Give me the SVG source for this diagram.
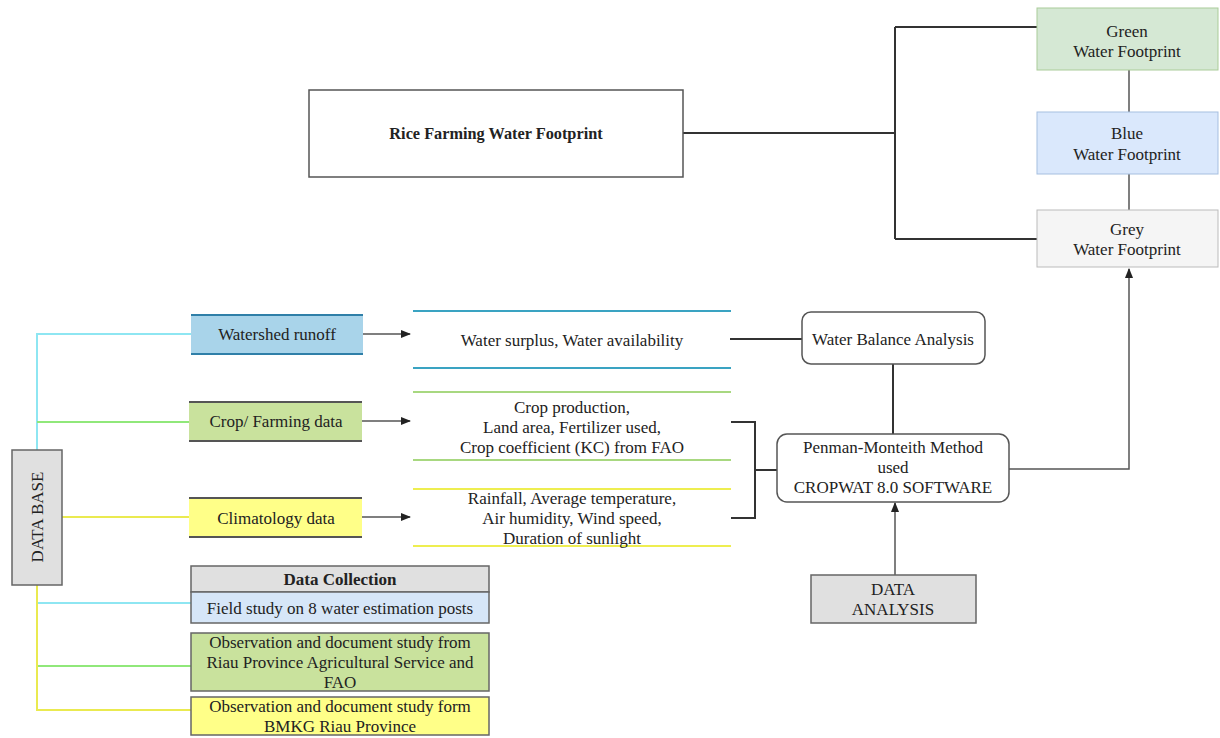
<svg xmlns="http://www.w3.org/2000/svg" width="1220" height="738" viewBox="0 0 1220 738">
<defs>
<marker id="ah" viewBox="0 0 10 10" refX="9" refY="5" markerWidth="7" markerHeight="7" orient="auto"><path d="M0,1 L10,5 L0,9 Z" fill="#222"/></marker>
<style>
text{font-family:"Liberation Serif","Times New Roman",serif;font-size:17px;fill:#222;text-anchor:middle}
.b{font-weight:bold}
.blk{stroke:#333;stroke-width:2;fill:none}
.thin{stroke:#555;stroke-width:1.5;fill:none}
</style>
</defs>
<rect width="1220" height="738" fill="#fff"/>
<g id="connectors">
<path class="blk" d="M683,133 H895 M895,27 V239 M895,27 H1037 M895,239 H1037"/>
<path class="thin" d="M1129,70 V112 M1129,174 V210"/>
<path class="thin" d="M1009,469 H1129 V269" marker-end="url(#ah)"/>
<path class="blk" d="M730,339 H802 M893,364 V434 M731,422 H755 V518 H731 M755,470 H777"/>
<path class="thin" d="M895,575 V503" marker-end="url(#ah)"/>
<path class="thin" d="M363,334 H410" marker-end="url(#ah)"/>
<path class="thin" d="M362,421 H410" marker-end="url(#ah)"/>
<path class="thin" d="M362,517 H410" marker-end="url(#ah)"/>
<path stroke="#8ee6f2" stroke-width="2" fill="none" d="M37,450 V334 H191 M37,603 H191"/>
<path stroke="#90e87a" stroke-width="2" fill="none" d="M37,422 H189 M37,666 H191"/>
<path stroke="#eaea50" stroke-width="2" fill="none" d="M62,517 H189 M37,585 V710 H191"/>
</g>
<g id="rice">
<rect x="309" y="90" width="374" height="87" fill="#fff" stroke="#555" stroke-width="1.5"/>
<text x="496" y="139" class="b" style="font-size:16.3px">Rice Farming Water Footprint</text>
</g>
<g id="green">
<rect x="1037" y="8" width="181" height="62" fill="#d5e8d4" stroke="#aacc99" stroke-width="1"/>
<text x="1127" y="37">Green</text><text x="1127" y="57">Water Footprint</text>
</g>
<g id="blue">
<rect x="1037" y="112" width="181" height="62" fill="#dae8fc" stroke="#a6bfe0" stroke-width="1"/>
<text x="1127" y="139">Blue</text><text x="1127" y="160">Water Footprint</text>
</g>
<g id="grey">
<rect x="1037" y="210" width="181" height="57" fill="#f5f5f5" stroke="#bbb" stroke-width="1"/>
<text x="1127" y="235">Grey</text><text x="1127" y="255">Water Footprint</text>
</g>
<g id="wba">
<rect x="802" y="312" width="183" height="52" rx="9" fill="#fff" stroke="#555" stroke-width="1.5"/>
<text x="893" y="345">Water Balance Analysis</text>
</g>
<g id="penman">
<rect x="777" y="434" width="232" height="68" rx="10" fill="#fff" stroke="#555" stroke-width="1.5"/>
<text x="893" y="453">Penman-Monteith Method</text>
<text x="893" y="473">used</text>
<text x="893" y="493">CROPWAT 8.0 SOFTWARE</text>
</g>
<g id="analysis">
<rect x="811" y="575" width="165" height="48" fill="#e0e0e0" stroke="#666" stroke-width="1.5"/>
<text x="893" y="595">DATA</text><text x="893" y="615">ANALYSIS</text>
</g>
<g id="surplus">
<line x1="413" y1="311" x2="731" y2="311" stroke="#3aa3c2" stroke-width="2"/>
<line x1="413" y1="368" x2="731" y2="368" stroke="#3aa3c2" stroke-width="2"/>
<text x="572" y="346">Water surplus, Water availability</text>
</g>
<g id="cropout">
<line x1="413" y1="392" x2="731" y2="392" stroke="#a8d880" stroke-width="2"/>
<line x1="413" y1="460" x2="731" y2="460" stroke="#a8d880" stroke-width="2"/>
<text x="572" y="413">Crop production,</text>
<text x="572" y="433">Land area, Fertilizer used,</text>
<text x="572" y="453">Crop coefficient (KC) from FAO</text>
</g>
<g id="climout">
<line x1="413" y1="489" x2="731" y2="489" stroke="#eeee50" stroke-width="2"/>
<line x1="413" y1="546" x2="731" y2="546" stroke="#eeee50" stroke-width="2"/>
<text x="572" y="504">Rainfall, Average temperature,</text>
<text x="572" y="524">Air humidity, Wind speed,</text>
<text x="572" y="544">Duration of sunlight</text>
</g>
<g id="watershed">
<rect x="191" y="315" width="172" height="39" fill="#a9d4ea"/>
<path d="M191,315 H363 M191,354 H363" stroke="#2f7fa8" stroke-width="2"/>
<text x="277" y="340">Watershed runoff</text>
</g>
<g id="cropfarm">
<rect x="189" y="402" width="173" height="39" fill="#c9e29d"/>
<path d="M189,402 H362 M189,441 H362" stroke="#555" stroke-width="2"/>
<text x="276" y="427">Crop/ Farming data</text>
</g>
<g id="climate">
<rect x="189" y="498" width="173" height="39" fill="#ffff88"/>
<path d="M189,498 H362 M189,537 H362" stroke="#555" stroke-width="2"/>
<text x="276" y="524">Climatology data</text>
</g>
<g id="database">
<rect x="12" y="450" width="50" height="135" fill="#e0e0e0" stroke="#666" stroke-width="1.5"/>
<text transform="translate(43,517) rotate(-90)">DATA BASE</text>
</g>
<g id="collection">
<rect x="191" y="566" width="298" height="26" fill="#e0e0e0" stroke="#666" stroke-width="1.5"/>
<text x="340" y="585" class="b">Data Collection</text>
<rect x="191" y="592" width="298" height="31" fill="#d6e6f8" stroke="#666" stroke-width="1.5"/>
<text x="340" y="614">Field study on 8 water estimation posts</text>
<rect x="191" y="633" width="298" height="58" fill="#c9e29d" stroke="#666" stroke-width="1.5"/>
<text x="340" y="648">Observation and document study from</text>
<text x="340" y="668">Riau Province Agricultural Service and</text>
<text x="340" y="688">FAO</text>
<rect x="191" y="697" width="298" height="38" fill="#ffff88" stroke="#666" stroke-width="1.5"/>
<text x="340" y="712">Observation and document study form</text>
<text x="340" y="732">BMKG Riau Province</text>
</g>
</svg>
